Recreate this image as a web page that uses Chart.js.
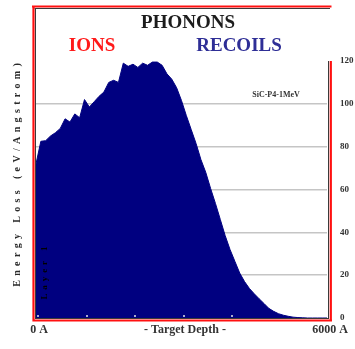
<!DOCTYPE html>
<html>
<head>
<meta charset="utf-8">
<script src="https://cdn.jsdelivr.net/npm/chart.js@4/dist/chart.umd.min.js"></script>
<style>
  html, body { margin: 0; padding: 0; background: #ffffff; }
  #wrap { width: 355px; height: 349px; position: relative; }
</style>
</head>
<body>
<div id="wrap"><canvas id="c" width="355" height="349"></canvas></div>
<script>
// ---- data ----
const depthAngstrom = [
  0, 100, 200, 300, 400, 500, 600, 700, 800, 900,
  1000, 1100, 1200, 1300, 1400, 1500, 1600, 1700, 1800, 1900,
  2000, 2100, 2200, 2300, 2400, 2500, 2600, 2700, 2800, 2900,
  3000, 3100, 3200, 3300, 3400, 3500, 3600, 3700, 3800, 3900,
  4000, 4100, 4200, 4300, 4400, 4500, 4600, 4700, 4800, 4900,
  5000, 5100, 5200, 5300, 5400, 5500, 5600, 5700, 5800, 5900, 6000
];
const phononEnergyLoss = [
  72, 82.5, 82.8, 85, 86.5, 88.5, 93, 91.5, 95.3, 93.5,
  102, 98.5, 101, 103.5, 105.5, 110, 111, 110, 119, 117.5,
  118.5, 117, 119, 118, 119.5, 119.5, 118, 114, 111.5, 107.5,
  101.5, 94.5, 88, 81.5, 74, 68, 60.5, 53.5, 46, 38.5,
  32, 26.5, 21, 17, 13.8, 11.3, 9, 6.8, 4.5, 3.1,
  2, 1.3, 0.8, 0.4, 0.2, 0.1, 0, 0, 0, 0, 0
];
const yTickValues = [0, 20, 40, 60, 80, 100, 120];
const xTickValues = [0, 6000];
const xTickLabels = ['0 A', '6000 A'];
const xMinorTicks = [0, 1000, 2000, 3000, 4000];

const chartTitle = 'PHONONS';
const ionsLabel = 'IONS';
const recoilsLabel = 'RECOILS';
const runLabel = 'SiC-P4-1MeV';
const layerLabel = 'Layer 1';
const yAxisTitle = 'Energy Loss (eV/Angstrom)';
const xAxisTitle = '- Target Depth -';

// ---- drawing helpers ----
const SERIF = '"Liberation Serif", "DejaVu Serif", serif';

function spacedText(ctx, text, cx, cy, targetLen, rotate) {
  ctx.save();
  ctx.translate(cx, cy);
  if (rotate) ctx.rotate(-Math.PI / 2);
  ctx.letterSpacing = '0px';
  const w = ctx.measureText(text).width;
  const s = Math.max(0, (targetLen - w) / text.length);
  ctx.letterSpacing = s + 'px';
  ctx.textAlign = 'center';
  ctx.textBaseline = 'middle';
  ctx.fillText(text, s / 2, 0);
  ctx.restore();
}

const decor = {
  id: 'decor',
  afterDraw(chart) {
    const ctx = chart.ctx;
    const a = chart.chartArea;
    const xs = chart.scales.x;
    ctx.save();

    // small minor tick marks along the bottom
    ctx.fillStyle = 'rgba(190,190,215,0.9)';
    xMinorTicks.forEach(v => {
      const px = xs.getPixelForValue(v);
      ctx.fillRect(Math.round(px) + 1, a.bottom - 3, 2, 2);
    });

    // inner dark frame line
    ctx.strokeStyle = '#3a3a3a';
    ctx.lineWidth = 1;
    ctx.beginPath();
    ctx.moveTo(34.5, 8.5); ctx.lineTo(330, 8.5);
    ctx.moveTo(35.5, 8); ctx.lineTo(35.5, 318.5);
    ctx.moveTo(35, 318.5); ctx.lineTo(329, 318.5);
    ctx.moveTo(328.5, a.top); ctx.lineTo(328.5, 319);
    ctx.stroke();

    // red outer frame
    ctx.strokeStyle = '#ff1010';
    ctx.lineWidth = 2.2;
    ctx.beginPath();
    ctx.moveTo(32, 6.5); ctx.lineTo(331.5, 6.5);
    ctx.moveTo(33.5, 5.5); ctx.lineTo(33.5, 321.5);
    ctx.moveTo(32.5, 320.5); ctx.lineTo(332, 320.5);
    ctx.moveTo(330.8, a.top); ctx.lineTo(330.8, 321.5);
    ctx.stroke();

    // titles
    ctx.textAlign = 'center';
    ctx.textBaseline = 'middle';
    ctx.font = 'bold 19px ' + SERIF;
    ctx.fillStyle = '#1c1c1c';
    ctx.fillText(chartTitle, 188, 23);
    ctx.fillStyle = '#ff1a1a';
    ctx.fillText(ionsLabel, 92, 46);
    ctx.fillStyle = '#2e2e96';
    ctx.fillText(recoilsLabel, 239, 46);

    // run label
    ctx.font = 'bold 8px ' + SERIF;
    ctx.fillStyle = '#333333';
    ctx.fillText(runLabel, 276, 95);

    // x axis title
    ctx.font = 'bold 12px ' + SERIF;
    ctx.fillStyle = '#333333';
    ctx.fillText(xAxisTitle, 185, 330);

    // y axis title (rotated, letter-spaced)
    ctx.font = 'bold 10px ' + SERIF;
    ctx.fillStyle = '#2a2a2a';
    spacedText(ctx, yAxisTitle, 17, 175, 228, true);

    // layer label inside plot
    ctx.font = 'bold 9px ' + SERIF;
    ctx.fillStyle = '#000000';
    spacedText(ctx, layerLabel, 45, 273, 57, true);

    ctx.restore();
  }
};

new Chart(document.getElementById('c'), {
  type: 'line',
  data: {
    datasets: [{
      data: depthAngstrom.map((d, i) => ({ x: d, y: phononEnergyLoss[i] })),
      fill: 'origin',
      backgroundColor: '#000080',
      borderColor: '#000080',
      borderWidth: 1,
      pointRadius: 0,
      tension: 0
    }]
  },
  options: {
    responsive: false,
    animation: false,
    devicePixelRatio: 1,
    layout: { padding: { left: 36, top: 61, right: 0, bottom: 0 } },
    plugins: { legend: { display: false }, title: { display: false }, tooltip: { enabled: false } },
    scales: {
      x: {
        type: 'linear',
        min: 0, max: 6000,
        grid: { display: false, drawTicks: false },
        border: { display: false },
        afterBuildTicks: s => { s.ticks = xTickValues.map(v => ({ value: v })); },
        afterFit: s => { s.height = 31; },
        ticks: {
          padding: 5,
          maxRotation: 0,
          autoSkip: false,
          labelOffset: 3,
          color: '#333333',
          font: { family: SERIF, size: 12, weight: 'bold' },
          callback: (v) => xTickLabels[xTickValues.indexOf(v)]
        }
      },
      y: {
        position: 'right',
        min: 0, max: 120,
        z: 1,
        afterBuildTicks: s => { s.ticks = yTickValues.map(v => ({ value: v })); },
        afterFit: s => { s.width = 28; },
        grid: {
          drawTicks: false,
          lineWidth: 1.5,
          color: c => (c.tick && (c.tick.value === 0 || c.tick.value === 120)) ? 'rgba(0,0,0,0)' : 'rgba(140,140,140,0.5)'
        },
        border: { display: false },
        ticks: {
          padding: 13,
          color: '#333333',
          font: { family: SERIF, size: 9, weight: 'bold' }
        }
      }
    }
  },
  plugins: [decor]
});
</script>
</body>
</html>
